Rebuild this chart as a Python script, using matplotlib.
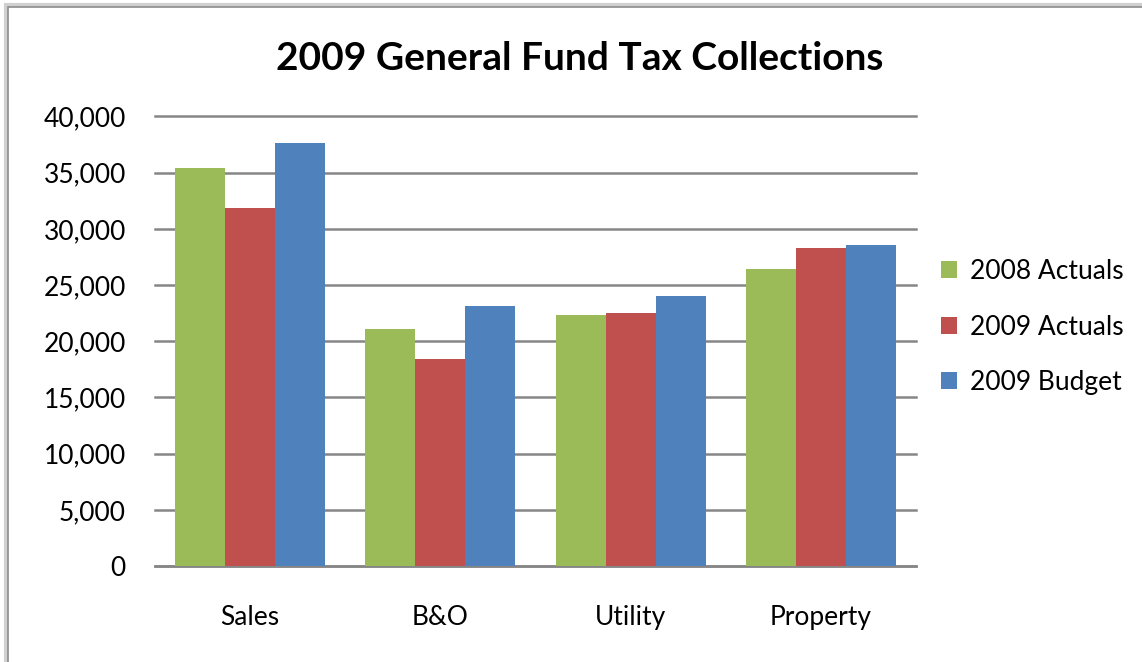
import matplotlib
matplotlib.use("Agg")
import matplotlib.pyplot as plt
from matplotlib.patches import Rectangle
import numpy as np

categories = ["Sales", "B&O", "Utility", "Property"]
series_names = ["2008 Actuals", "2009 Actuals", "2009 Budget"]
actuals_2008 = [35400, 21100, 22300, 26400]
actuals_2009 = [31900, 18400, 22500, 28300]
budget_2009 = [37600, 23100, 24000, 28600]
colors = ["#9BBB59", "#C0504D", "#4F81BD"]
yticks = [0, 5000, 10000, 15000, 20000, 25000, 30000, 35000, 40000]

plt.rcParams['font.family'] = ['Lato', 'DejaVu Sans']

W, H = 1142, 662
fig = plt.figure(figsize=(W / 100, H / 100), dpi=100)
fig.patch.set_facecolor("white")

# outer border with slight shadow
fig.patches.append(Rectangle((6 / W, -0.1), 1.2, 1 - 5 / H + 0.1, transform=fig.transFigure,
                             fill=False, edgecolor="#d0d0d0", linewidth=3, zorder=0))
fig.patches.append(Rectangle((8 / W, -0.1), 1.2, 1 - 7 / H + 0.1, transform=fig.transFigure,
                             fill=False, edgecolor="#8c8c8c", linewidth=1.2, zorder=1))

left, right = 155 / W, 916 / W
bottom, top = 1 - 566 / H, 1 - 116.5 / H
ax = fig.add_axes([left, bottom, right - left, top - bottom])

x = np.arange(len(categories))
bw = 50 / 190
for i, (vals, name) in enumerate(zip([actuals_2008, actuals_2009, budget_2009], series_names)):
    ax.bar(x + (i - 1) * bw, vals, width=bw, color=colors[i], label=name, zorder=3,
           edgecolor="none")

ax.set_xlim(-0.5, len(categories) - 0.5)
ax.set_ylim(0, 40000)
ax.set_yticks(yticks)
ax.set_yticklabels([f"{v:,}" for v in yticks])
ax.set_xticks(x)
ax.set_xticklabels(categories)
ax.yaxis.grid(True, color="#868686", linewidth=1.8, zorder=0)
for gl in ax.get_ygridlines():
    gl.set_clip_on(False)
ax.set_axisbelow(True)
for s in ["top", "right", "left"]:
    ax.spines[s].set_visible(False)
ax.spines["bottom"].set_color("#868686")
ax.spines["bottom"].set_linewidth(1.8)
ax.tick_params(axis="both", length=0, labelsize=19, colors="black")
ax.tick_params(axis="y", pad=21)
ax.tick_params(axis="x", pad=28)

fig.text(580 / W, 1 - 58 / H, "2009 General Fund Tax Collections", ha="center", va="center",
         fontsize=28, fontweight="bold")

leg = fig.legend(loc="center left", bbox_to_anchor=(917 / W, 1 - 327 / H), frameon=False,
                 fontsize=19, handlelength=0.6, handleheight=0.6, labelspacing=1.15,
                 handletextpad=0.5)

fig.savefig("out.png", dpi=100)
